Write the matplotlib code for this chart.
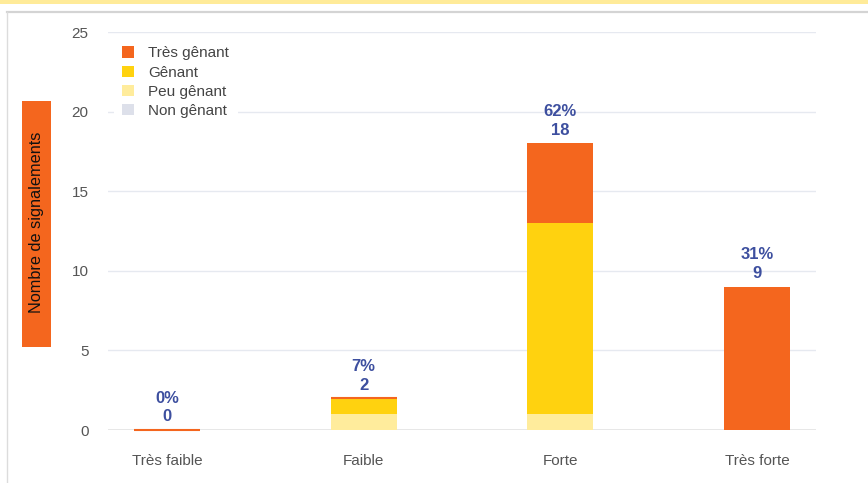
"""
Stacked bar chart: nombre de signalements par intensité et niveau de gêne.
"""
import matplotlib
matplotlib.use("Agg")
import matplotlib.pyplot as plt
import matplotlib.patches as mpatches
from matplotlib.lines import Line2D
import numpy as np

categories = ["Très faible", "Faible", "Forte", "Très forte"]
non_genant = [0, 0, 0, 0]
peu_genant = [0, 1, 1, 0]
genant = [0, 1, 12, 0]
tres_genant = [0, 0, 5, 9]
y_ticks = [0, 5, 10, 15, 20, 25]

C_TRES = "#f4661e"
C_GEN = "#ffd20f"
C_PEU = "#ffec9c"
C_NON = "#dde0ea"
C_LABEL = "#3d4f9f"
C_TICK = "#555555"
C_GRID = "#e6e9f0"
FONT = ["Liberation Sans", "DejaVu Sans"]

plt.rcParams["font.family"] = FONT

W, H = 868, 483
fig = plt.figure(figsize=(W / 100, H / 100), dpi=100)
fig.patch.set_facecolor("white")

# ── card decoration: yellow strip, grey border ─────────────────────────────
fig.patches.append(mpatches.Rectangle((0, 1 - 4 / H), 1, 4 / H, transform=fig.transFigure,
                                      facecolor="#ffeb99", edgecolor="none", zorder=0))
fig.lines.append(Line2D([7 / W, 1], [1 - 12 / H, 1 - 12 / H], transform=fig.transFigure,
                        color="#d4d4d4", linewidth=1.6))
fig.lines.append(Line2D([7 / W, 7 / W], [0, 1 - 12 / H], transform=fig.transFigure,
                        color="#dcdcdc", linewidth=1.0))

ax = fig.add_axes([108 / W, (H - 430) / H, 708 / W, 398 / H])
ax.set_facecolor("none")

x = np.arange(len(categories))
bw = 0.336
series = [
    ("Non gênant", non_genant, C_NON),
    ("Peu gênant", peu_genant, C_PEU),
    ("Gênant", genant, C_GEN),
    ("Très gênant", tres_genant, C_TRES),
]
bottom = np.zeros(len(categories))
for name, vals, col in series:
    vals = np.array(vals, dtype=float)
    ax.bar(x, vals, bw, bottom=bottom, color=col, edgecolor="none", zorder=2, label=name)
    bottom += vals

# zero-valued top segment still shows as a thin orange line
for xi, top, v in zip(x, bottom, tres_genant):
    if v == 0:
        ax.hlines(top + 0.03, xi - bw / 2, xi + bw / 2, color=C_TRES, linewidth=1.5,
                  zorder=3, clip_on=False)

# ── data labels ────────────────────────────────────────────────────────────
grand_total = bottom.sum()
for xi, top in zip(x, bottom):
    pct = round(top / grand_total * 100)
    ax.annotate(f"{pct}%\n{int(top)}", (xi, top), xytext=(0, 4), textcoords="offset points",
                ha="center", va="bottom", fontsize=12, fontweight="bold",
                color=C_LABEL, linespacing=1.32, zorder=4)

# ── axes ───────────────────────────────────────────────────────────────────
ax.set_xlim(-0.3, 3.3)
ax.set_ylim(0, 25)
ax.set_yticks(y_ticks)
ax.set_yticklabels([str(t) for t in y_ticks], fontsize=11, color=C_TICK)
ax.set_xticks(x)
ax.set_xticklabels(categories, fontsize=11, color=C_TICK)
ax.tick_params(axis="y", length=0, pad=14)
ax.tick_params(axis="x", length=0, pad=17)
for t in y_ticks[1:]:
    ax.axhline(t, color=C_GRID, linewidth=1.0, zorder=1)
ax.axhline(0, color="#e3e3e3", linewidth=1.2, zorder=1)
for spine in ax.spines.values():
    spine.set_visible(False)

# ── y label in orange box ──────────────────────────────────────────────────
fig.patches.append(mpatches.Rectangle((22 / W, (H - 347) / H), 29 / W, 246 / H,
                                      transform=fig.transFigure, facecolor=C_TRES,
                                      edgecolor="none", zorder=1))
fig.text(37 / W, (H - 222) / H, "Nombre de signalements", rotation=90, ha="center",
         va="center", fontsize=11.7, color="#111111", zorder=2)

# ── legend ─────────────────────────────────────────────────────────────────
handles = [mpatches.Patch(facecolor=c, edgecolor="none", label=n) for n, _, c in series[::-1]]
leg = ax.legend(handles=handles, loc="upper left", bbox_to_anchor=(0.008, 0.985),
                frameon=True, facecolor="white", edgecolor="none", framealpha=1,
                fancybox=False, fontsize=11, handlelength=0.75, handleheight=0.75,
                handletextpad=0.97, labelspacing=0.34, borderpad=0.55, borderaxespad=0)
for t in leg.get_texts():
    t.set_color("#444444")
leg.set_zorder(5)

fig.savefig("out.png", dpi=100, facecolor="white")
